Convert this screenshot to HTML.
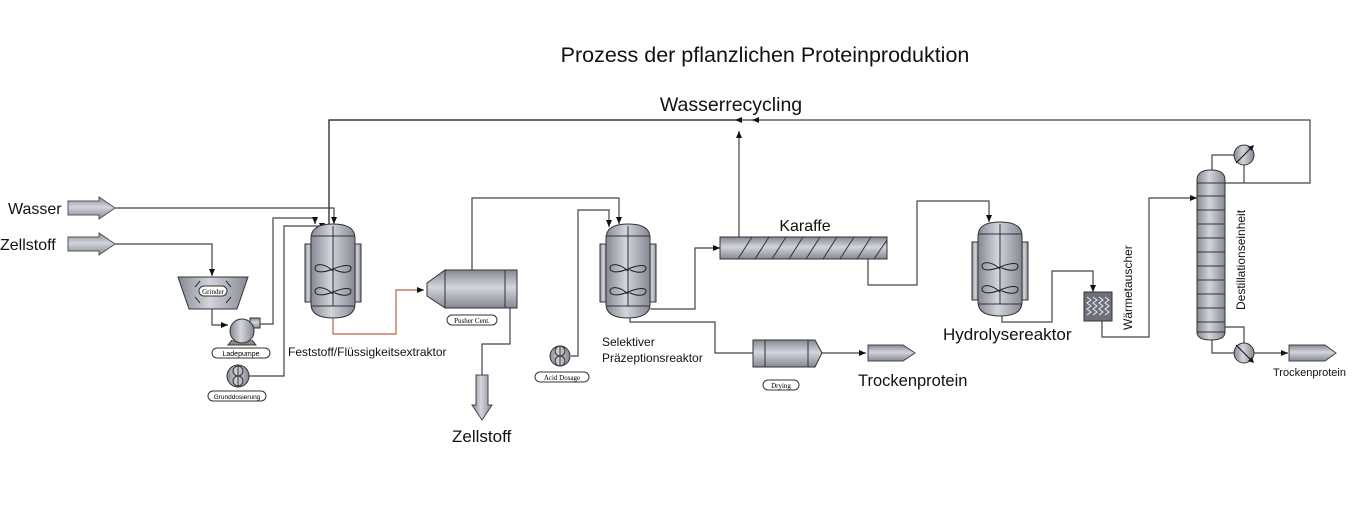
<!DOCTYPE html>
<html><head><meta charset="utf-8"><style>
html,body{margin:0;padding:0;background:#fff;}
svg{display:block;font-family:"Liberation Sans","DejaVu Sans",sans-serif;}
</style></head><body>
<svg width="1370" height="526" viewBox="0 0 1370 526" xmlns="http://www.w3.org/2000/svg">
<defs>
<linearGradient id="g" x1="0" x2="1" y1="0" y2="0">
<stop offset="0" stop-color="#858994"/><stop offset="0.45" stop-color="#d2d5db"/><stop offset="1" stop-color="#858994"/>
</linearGradient>
<linearGradient id="gv" x1="0" x2="0" y1="0" y2="1">
<stop offset="0" stop-color="#858994"/><stop offset="0.45" stop-color="#d2d5db"/><stop offset="1" stop-color="#858994"/>
</linearGradient>
<marker id="a" markerWidth="8" markerHeight="8" refX="7" refY="4" orient="auto" markerUnits="userSpaceOnUse"><path d="M0,1 L7,4 L0,7Z" fill="#111"/></marker>
<g id="reactor">
<rect x="-28" y="20" width="7" height="58" fill="url(#g)" stroke="#333"/>
<rect x="21" y="20" width="7" height="58" fill="url(#g)" stroke="#333"/>
<path d="M-22,14 Q-22,0 0,0 Q22,0 22,14 L22,80 Q22,94 0,94 Q-22,94 -22,80Z" fill="url(#g)" stroke="#333"/>
<line x1="-22" y1="12" x2="22" y2="12" stroke="#333"/><line x1="-22" y1="82" x2="22" y2="82" stroke="#333"/>
<line x1="0" y1="2" x2="0" y2="82" stroke="#333"/>
<path d="M0,47 C-10,38 -18,40 -18,44 C-18,49 -10,49 0,45 C10,41 18,40 18,44 C18,49 10,50 0,45" fill="none" stroke="#222"/>
<path d="M0,70 C-10,61 -18,63 -18,67 C-18,72 -10,72 0,68 C10,64 18,63 18,67 C18,72 10,73 0,68" fill="none" stroke="#222"/>
</g>
</defs>

<text x="765" y="62" font-size="21.5" text-anchor="middle" fill="#111">Prozess der pflanzlichen Proteinproduktion</text>
<text x="731" y="111" font-size="19.5" text-anchor="middle" fill="#111">Wasserrecycling</text>

<g fill="none" stroke="#444" stroke-width="1.2">
<polyline points="1225,183 1310,183 1310,120 740,120"/>
<polyline points="760,120 752,120" marker-end="url(#a)"/>
<polyline points="740,120 329,120 329,224" stroke="#111"/>
<polyline points="742,120 735,120" marker-end="url(#a)" stroke="#111"/>
<polyline points="739,237 739,131" marker-end="url(#a)"/>
<polyline points="115,208 334,208 334,224" marker-end="url(#a)"/>
<polyline points="115,244 212,244 212,276" marker-end="url(#a)"/>
<polyline points="212,308 212,325 228,325" marker-end="url(#a)"/>
<polyline points="258,324 273,324 273,218 315,218 315,224" marker-end="url(#a)"/>
<polyline points="249,376 284,376 284,226 322,226 322,230" marker-end="url(#a)"/>
<polyline points="472,270 472,198 619,198 619,224" marker-end="url(#a)"/>
<polyline points="510,308 510,344 482,344 482,375"/>
<polyline points="571,356 578,356 578,210 609,210 609,227" marker-end="url(#a)"/>
<polyline points="650,309 695,309 695,248 720,248" marker-end="url(#a)"/>
<polyline points="630,316 630,322 715,322 715,353 753,353"/>
<polyline points="822,353 866,353" marker-end="url(#a)"/>
<polyline points="868,259 868,285 917,285 917,201 989,201 989,222" marker-end="url(#a)"/>
<polyline points="1002,315 1002,322 1052,322 1052,271 1093,271 1093,292" marker-end="url(#a)"/>
<polyline points="1102,320 1102,337 1149,337 1149,198 1197,198" marker-end="url(#a)"/>
<polyline points="1212,172 1212,155 1234,155"/>
<polyline points="1244,165 1244,183"/>
<polyline points="1225,327 1244,327 1244,343"/>
<polyline points="1212,338 1212,353 1234,353"/>
<polyline points="1254,353 1288,353" marker-end="url(#a)"/>
</g>
<polyline points="333,314 333,334 396,334 396,290 424,290" fill="none" stroke="#c0614a" stroke-width="1.2" marker-end="url(#a)"/>

<path d="M68,201 L99,201 L99,197 L115,208 L99,219 L99,215 L68,215Z" fill="url(#gv)" stroke="#555"/>
<path d="M68,237 L99,237 L99,233 L115,244 L99,255 L99,251 L68,251Z" fill="url(#gv)" stroke="#555"/>
<text x="8" y="214" font-size="16" fill="#111">Wasser</text>
<text x="0" y="250" font-size="16" fill="#111">Zellstoff</text>

<path d="M178,277 L248,277 L237,309 L189,309Z" fill="url(#g)" stroke="#333"/>
<path d="M195,287 L200,281 M226,281 L231,287 M195,297 L200,303 M226,303 L231,297" stroke="#333" fill="none"/>
<rect x="199" y="286" width="28" height="10" rx="5" fill="#fff" stroke="#333"/>
<text x="213" y="294" font-size="7" font-family="Liberation Serif" text-anchor="middle">Grinder</text>

<rect x="250" y="318" width="10" height="10" fill="url(#gv)" stroke="#333"/>
<path d="M232,340 L228,345 L256,345 L252,340" fill="#888" stroke="#333"/>
<circle cx="242" cy="331" r="12" fill="url(#g)" stroke="#333"/>
<rect x="212" y="348" width="58" height="10" rx="5" fill="#fff" stroke="#333"/>
<text x="241" y="356" font-size="7" text-anchor="middle">Ladepumpe</text>
<circle cx="238" cy="376" r="11" fill="url(#g)" stroke="#333"/>
<path d="M238,366 L238,386 M233,371 a5,5 0 1,0 10,0 a5,5 0 1,0 -10,0 M233,381 a5,5 0 1,0 10,0 a5,5 0 1,0 -10,0" fill="none" stroke="#333"/>
<rect x="208" y="391" width="58" height="10" rx="5" fill="#fff" stroke="#333"/>
<text x="237" y="399" font-size="6.5" text-anchor="middle">Grunddosierung</text>

<use href="#reactor" x="333" y="224"/>
<text x="288" y="356" font-size="12" fill="#111">Feststoff/Flüssigkeitsextraktor</text>

<path d="M445,270 L445,308 L427,296 L427,283Z" fill="url(#gv)" stroke="#333"/>
<rect x="445" y="270" width="72" height="38" fill="url(#gv)" stroke="#333"/>
<line x1="505" y1="270" x2="505" y2="308" stroke="#333"/>
<rect x="447" y="315" width="50" height="10" rx="5" fill="#fff" stroke="#333"/>
<text x="472" y="323" font-size="7" font-family="Liberation Serif" text-anchor="middle">Pusher Cent.</text>
<path d="M476,375 L488,375 L488,405 L492,405 L482,420 L472,405 L476,405Z" fill="url(#g)" stroke="#444"/>
<text x="452" y="442" font-size="17" fill="#111">Zellstoff</text>

<circle cx="560" cy="356" r="10" fill="url(#g)" stroke="#333"/>
<path d="M560,346 L560,366 M555,351 a5,5 0 1,0 10,0 a5,5 0 1,0 -10,0 M555,361 a5,5 0 1,0 10,0 a5,5 0 1,0 -10,0" fill="none" stroke="#333"/>
<rect x="535" y="372" width="54" height="10" rx="5" fill="#fff" stroke="#333"/>
<text x="562" y="380" font-size="7" font-family="Liberation Serif" text-anchor="middle">Acid Dosage</text>

<use href="#reactor" x="628" y="224"/>
<text x="602" y="346" font-size="12" fill="#111">Selektiver</text>
<text x="602" y="362" font-size="12" fill="#111">Präzeptionsreaktor</text>

<rect x="720" y="237" width="167" height="22" fill="url(#gv)" stroke="#333"/>
<path d="M738,259 L752,237 M755,259 L769,237 M772,259 L786,237 M789,259 L803,237 M806,259 L820,237 M823,259 L837,237 M840,259 L854,237 M857,259 L871,237 M874,259 L887,240" stroke="#333" fill="none"/>
<text x="805" y="231" font-size="16" text-anchor="middle" fill="#111">Karaffe</text>

<rect x="753" y="340" width="55" height="27" fill="url(#gv)" stroke="#333"/>
<line x1="765" y1="340" x2="765" y2="367" stroke="#333"/>
<path d="M808,340 L815,340 L822,353 L815,367 L808,367Z" fill="url(#gv)" stroke="#333"/>
<rect x="763" y="380" width="36" height="10" rx="5" fill="#fff" stroke="#333"/>
<text x="781" y="388" font-size="7" font-family="Liberation Serif" text-anchor="middle">Drying</text>
<path d="M868,345 L903,345 L915,353 L903,361 L868,361Z" fill="url(#gv)" stroke="#444"/>
<text x="858" y="386" font-size="16.5" fill="#111">Trockenprotein</text>

<use href="#reactor" x="1000" y="222"/>
<text x="943" y="340" font-size="17" fill="#111">Hydrolysereaktor</text>

<rect x="1084" y="292" width="28" height="29" fill="#6c707a" stroke="#333"/>
<path d="M1087,297 l4,3 l-4,3 l4,3 l-4,3 l4,3 l-4,3 M1093,297 l4,3 l-4,3 l4,3 l-4,3 l4,3 l-4,3 M1099,297 l4,3 l-4,3 l4,3 l-4,3 l4,3 l-4,3 M1105,297 l4,3 l-4,3 l4,3 l-4,3 l4,3 l-4,3" stroke="#eee" fill="none"/>
<text transform="translate(1132,330) rotate(-90)" font-size="12" fill="#111">Wärmetauscher</text>

<path d="M1197,180 Q1197,170 1211,170 Q1225,170 1225,180 L1225,332 Q1225,340 1211,340 Q1197,340 1197,332Z" fill="url(#g)" stroke="#333"/>
<g stroke="#333">
<line x1="1197" y1="183" x2="1225" y2="183"/><line x1="1197" y1="196" x2="1225" y2="196"/><line x1="1197" y1="210" x2="1225" y2="210"/><line x1="1197" y1="224" x2="1225" y2="224"/><line x1="1197" y1="238" x2="1225" y2="238"/><line x1="1197" y1="252" x2="1225" y2="252"/><line x1="1197" y1="266" x2="1225" y2="266"/><line x1="1197" y1="280" x2="1225" y2="280"/><line x1="1197" y1="294" x2="1225" y2="294"/><line x1="1197" y1="308" x2="1225" y2="308"/><line x1="1197" y1="322" x2="1225" y2="322"/><line x1="1197" y1="332" x2="1225" y2="332"/>
</g>
<text transform="translate(1245,310) rotate(-90)" font-size="12" fill="#111">Destillationseinheit</text>
<circle cx="1244" cy="155" r="10" fill="url(#g)" stroke="#333"/>
<line x1="1236" y1="163" x2="1252" y2="147" stroke="#111"/><path d="M1254,145 l-6,2 l4,4Z" fill="#111"/>
<circle cx="1244" cy="353" r="10" fill="url(#g)" stroke="#333"/>
<line x1="1236" y1="345" x2="1252" y2="361" stroke="#111"/><path d="M1254,363 l-2,-6 l-4,4Z" fill="#111"/>
<path d="M1289,345 L1325,345 L1336,353 L1325,361 L1289,361Z" fill="url(#gv)" stroke="#444"/>
<text x="1273" y="376" font-size="11" fill="#111">Trockenprotein</text>
</svg>
</body></html>
